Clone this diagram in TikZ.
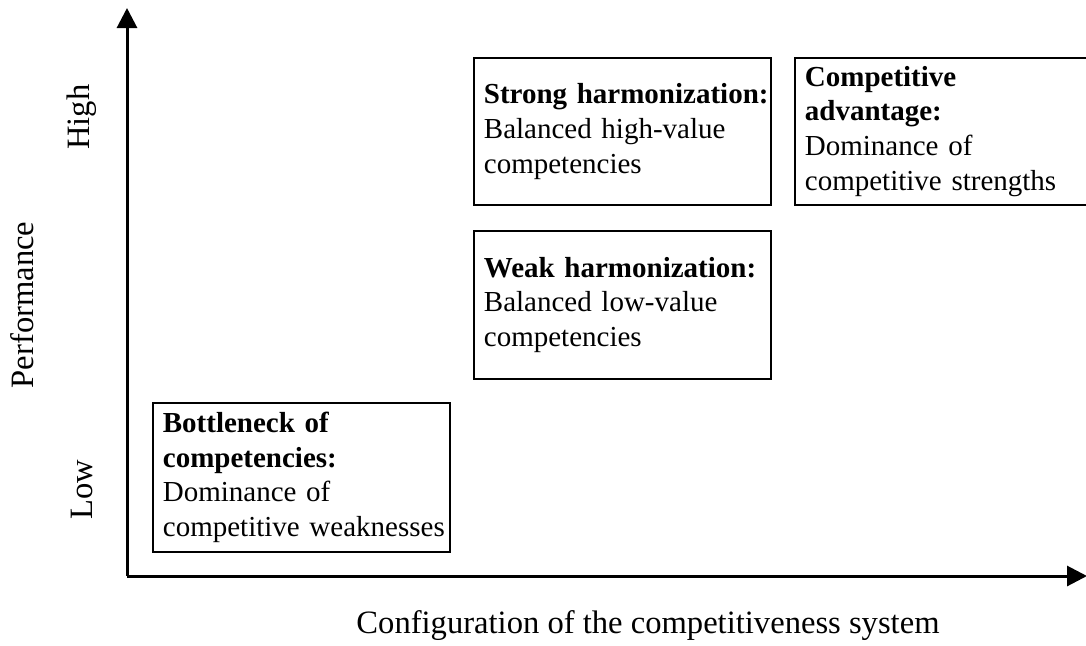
\documentclass[tikz,border=0pt]{standalone}
\usepackage{fontspec}
\setmainfont{Liberation Serif}
\usetikzlibrary{arrows.meta}
\begin{document}
\begin{tikzpicture}[x=1pt,y=-1pt,
    axis/.style={line width=3pt,-{Triangle[length=20pt,width=20pt]}},
    label/.style={font=\fontsize{32.6}{39}\selectfont},
    field/.style={draw,line width=1.8pt,anchor=north west,align=left,
        font=\fontsize{29}{34.8}\selectfont,
        text width=277pt,inner xsep=10pt,inner ysep=0pt}]
            \useasboundingbox (0,0) rectangle (1086,645);
            % Axes
            \coordinate (origin) at (127,576);
            \coordinate (ytip) at (127,8);
            \coordinate (xtip) at (1087,576);
            \draw [axis] (origin) -- (ytip);
            \draw [axis] (origin) -- (xtip);
            % Axis labels
            \node (high) [label,rotate=90] at (82,117) {High};
            \node (low) [label,rotate=90] at (82,490) {Low};
            \node (perf) [label,rotate=90] at (22,305) {Performance};
            \node (config) [label] at (648,626) {Configuration of the competitiveness system};
            % Fields
            \node (bottleneck) [field,minimum height=149pt] at (152,402)
                {\textbf{Bottleneck of}\\\textbf{competencies:}\\Dominance of\\\mbox{competitive weaknesses}};
            \node (weak) [field,minimum height=148pt] at (473,230)
                {\textbf{Weak harmonization:}\\Balanced low-value\\competencies};
            \node (strong) [field,minimum height=147pt] at (473,57)
                {\mbox{\textbf{Strong harmonization:}}\\Balanced high-value\\competencies};
            \node (advantage) [field,minimum height=147pt] at (794,57)
                {\textbf{Competitive}\\\textbf{advantage:}\\Dominance of\\competitive strengths};
        \end{tikzpicture}
\end{document}
